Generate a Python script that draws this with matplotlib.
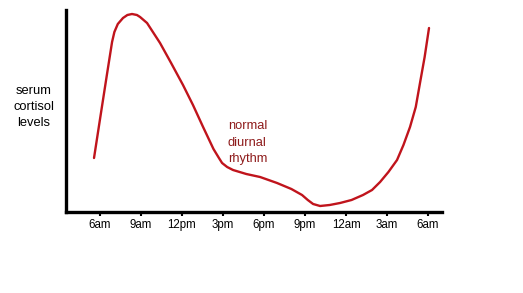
import numpy as np
import matplotlib
matplotlib.use('Agg')
matplotlib.rcParams['font.family'] = ['Liberation Sans', 'DejaVu Sans']
import matplotlib.pyplot as plt

# hours after 6am vs. cortisol level (arbitrary units)
hours = [-0.44, 0.0, 0.5, 0.88, 1.05, 1.3, 1.68, 2.0, 2.34, 2.7, 2.93, 3.44,
         4.39, 5.2, 6.07, 6.8, 7.54, 8.3, 8.7, 8.93, 9.3, 9.73, 10.7, 11.71,
         12.95, 14.0, 14.78, 15.2, 15.59, 16.1, 16.8, 17.56, 18.4, 19.24,
         19.9, 20.49, 21.1, 21.73, 22.2, 22.68, 23.1, 23.41, 23.75, 24.07]
levels = [54, 93, 137, 170, 180, 188, 194, 197, 198, 197, 195, 189,
          169, 149, 127, 107, 85, 63, 54, 49, 45, 42, 38, 35,
          29, 23, 17, 12, 8, 6, 7, 9, 12, 17,
          22, 30, 40, 52, 67, 85, 105, 129, 155, 184]

tick_pos = [0, 3, 6, 9, 12, 15, 18, 21, 24]
tick_labels = ['6am', '9am', '12pm', '3pm', '6pm', '9pm', '12am', '3am', '6am']

fig = plt.figure(figsize=(5.23, 2.93), dpi=100)
ax = fig.add_axes([66/523, 81/293, 376/523, 202/293])
ax.plot(hours, levels, color='#c0141c', lw=1.7, solid_joinstyle='round',
        solid_capstyle='round')

ax.set_xlim(-2.49, 25.02)
ax.set_ylim(0, 202)
ax.set_xticks(tick_pos)
ax.set_xticklabels(tick_labels, fontsize=8.3)
ax.set_yticks([])
for s in ['top', 'right']:
    ax.spines[s].set_visible(False)
for s in ['left', 'bottom']:
    ax.spines[s].set_linewidth(2.4)
ax.tick_params(axis='x', length=3, width=1.5, pad=2)

fig.text(34/523, 1 - 107/293, 'serum\ncortisol\nlevels', ha='center', va='center',
         fontsize=9.3, linespacing=1.5)
fig.text(228/523, 1 - 143/293, 'normal\ndiurnal\nrhythm', ha='left', va='center',
         fontsize=9.3, linespacing=1.5, color='#8e1b1b')

fig.savefig('out.png', dpi=100)
